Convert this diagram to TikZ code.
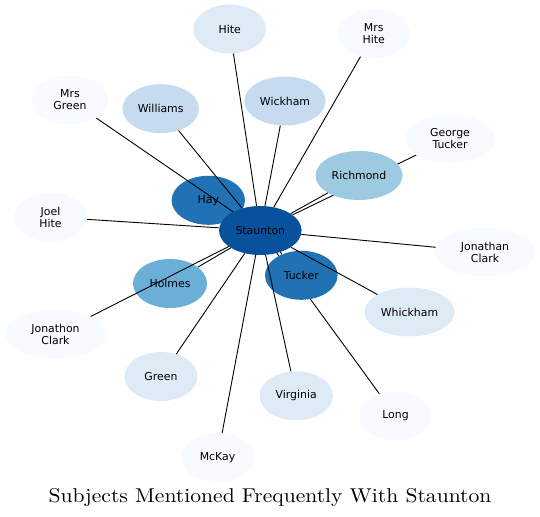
\documentclass[tikz,border=0pt]{standalone}
\usepackage{fontspec}
\newfontfamily\nodefont{DejaVu Sans}
\newfontfamily\titlefont{lmroman10-regular.otf}
\usetikzlibrary{shapes.geometric}
\definecolor{b1}{HTML}{F7FBFF}
\definecolor{b2}{HTML}{DEEBF7}
\definecolor{b3}{HTML}{C6DBEF}
\definecolor{b4}{HTML}{9ECAE1}
\definecolor{b5}{HTML}{6BAED6}
\definecolor{b6}{HTML}{2171B5}
\definecolor{b7}{HTML}{08519C}
\pgfdeclarelayer{bg}
\pgfsetlayers{bg,main}
\begin{document}
\begin{tikzpicture}[x=1bp,y=-1bp,
  subj/.style={ellipse, inner sep=0pt, minimum height=49bp, draw=none,
    font=\nodefont\fontsize{10.9bp}{12bp}\selectfont, align=center, text=black},
  link/.style={line width=0.9bp, black},
  titletext/.style={font=\titlefont\fontsize{20bp}{24bp}\selectfont, anchor=base, inner sep=0pt}]
\useasboundingbox (0,0) rectangle (540,517);
% nodes
\node[subj, fill=b6, minimum width=73.4bp] (hay) at (208.3,200.3) {Hay};
\node[subj, fill=b7, minimum width=82.6bp] (staunton) at (260.3,230.5) {Staunton};
\node[subj, fill=b6, minimum width=72.6bp] (tucker) at (301.3,275.3) {Tucker};
\node[subj, fill=b5, minimum width=74bp] (holmes) at (170,283.5) {Holmes};
\node[subj, fill=b4, minimum width=87bp] (richmond) at (359,175.5) {Richmond};
\node[subj, fill=b3, minimum width=76.6bp] (williams) at (160.7,108.7) {Williams};
\node[subj, fill=b3, minimum width=81.4bp] (wickham) at (285,101) {Wickham};
\node[subj, fill=b2, minimum width=72.6bp] (hite) at (229.7,29) {Hite};
\node[subj, fill=b2, minimum width=73bp] (green) at (161,376.5) {Green};
\node[subj, fill=b2, minimum width=73.4bp] (virginia) at (296.2,395.8) {Virginia};
\node[subj, fill=b2, minimum width=90bp] (whickham) at (409.5,312) {Whickham};
\node[subj, fill=b1, minimum width=72.6bp] (mrshite) at (373.7,33.7) {Mrs\\Hite};
\node[subj, fill=b1, minimum width=77bp] (mrsgreen) at (70,100) {Mrs\\Green};
\node[subj, fill=b1, minimum width=90bp] (georgetucker) at (450,138.7) {George\\Tucker};
\node[subj, fill=b1, minimum width=73.4bp] (joelhite) at (50.5,217) {Joel\\Hite};
\node[subj, fill=b1, minimum width=100bp] (jonathanclark) at (485,252) {Jonathan\\Clark};
\node[subj, fill=b1, minimum width=101bp] (jonathonclark) at (55.5,334.3) {Jonathon\\Clark};
\node[subj, fill=b1, minimum width=72.6bp] (long) at (395.5,415.9) {Long};
\node[subj, fill=b1, minimum width=73.4bp] (mckay) at (217.5,457.5) {McKay};
% hidden connectors (behind nodes)
\begin{pgfonlayer}{bg}
\draw[link] (hay) -- (staunton);
\draw[link] (georgetucker) -- (staunton);
\draw[link] (long) -- (staunton);
\end{pgfonlayer}
% visible connectors
\draw[link] (richmond) -- (staunton);
\draw[link] (holmes) -- (staunton);
\draw[link] (tucker) -- (staunton);
\draw[link] (williams) -- (staunton);
\draw[link] (wickham) -- (staunton);
\draw[link] (hite) -- (staunton);
\draw[link] (green) -- (staunton);
\draw[link] (virginia) -- (staunton);
\draw[link] (whickham) -- (staunton);
\draw[link] (mrshite) -- (staunton);
\draw[link] (mrsgreen) -- (staunton);
\draw[link] (joelhite) -- (staunton);
\draw[link] (jonathanclark) -- (staunton);
\draw[link] (jonathonclark) -- (staunton);
\draw[link] (mckay) -- (staunton);
% title
\node[titletext] (title) at (270,502) {\scalebox{1.08}[1]{Subjects Mentioned Frequently With Staunton}};
\end{tikzpicture}
\end{document}
